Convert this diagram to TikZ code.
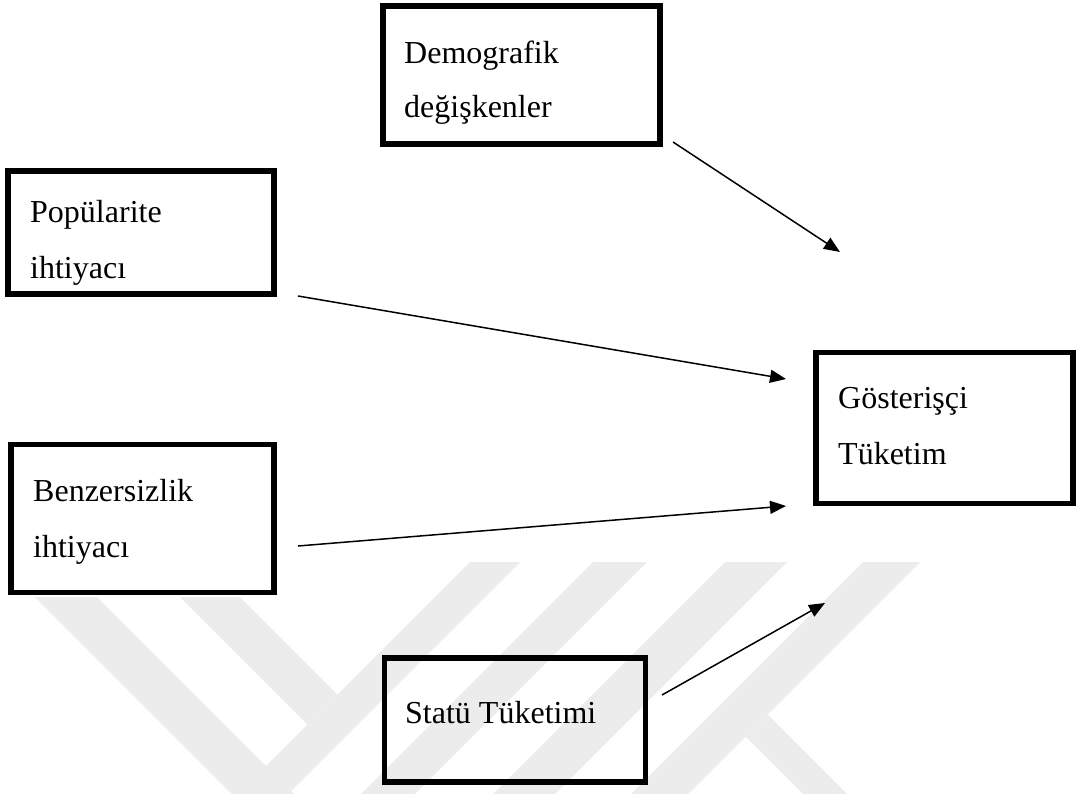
\documentclass[tikz,border=0pt]{standalone}
\usepackage{fontspec}
\setmainfont{Liberation Serif}
\usetikzlibrary{arrows.meta}
\definecolor{wm}{RGB}{236,236,236}
\begin{document}
\begin{tikzpicture}[x=1pt,y=-1pt,
  box/.style={draw=black, line width=5.5pt, rectangle, inner sep=0pt},
  lbl/.style={anchor=base west, inner sep=0pt, font=\fontsize{32}{38}\selectfont},
  link/.style={line width=1.5pt, -{Triangle[length=16pt,width=13pt]}},
  mark band/.style={fill=wm, draw=none}]
\useasboundingbox (0,0) rectangle (1078,794);
\fill[white] (0,0) rectangle (1078,794);
% faint watermark
\fill[mark band] (35,597) -- (97,597) -- (294,794) -- (232,794) -- cycle;
\fill[mark band] (180,597) -- (240,597) -- (337.5,694.5) -- (307.5,724.5) -- cycle;
\fill[mark band] (470,562) -- (520,562) -- (288,794) -- (238,794) -- cycle;
\fill[mark band] (593,562) -- (647,562) -- (415,794) -- (361,794) -- cycle;
\fill[mark band] (725,562) -- (787,562) -- (555,794) -- (493,794) -- cycle;
\fill[mark band] (863,562) -- (920,562) -- (688,794) -- (631,794) -- cycle;
\fill[mark band] (745.5,736.5) -- (767.5,714.5) -- (847,794) -- (803,794) -- cycle;
% boxes
\node[box, minimum width=277pt, minimum height=138pt] (demo) at (521.5,75) {};
\node[box, minimum width=266pt, minimum height=123pt] (popu) at (141,232.5) {};
\node[box, minimum width=257pt, minimum height=151pt] (gost) at (944.5,428) {};
\node[box, minimum width=263pt, minimum height=148pt] (benz) at (142.5,518.5) {};
\node[box, minimum width=261pt, minimum height=124pt] (statu) at (515,720) {};
% labels
\node[lbl] (demoA) at (404,64) {Demografik};
\node[lbl] (demoB) at (404,118) {değişkenler};
\node[lbl] (popuA) at (30,223) {Popülarite};
\node[lbl] (popuB) at (30,278) {ihtiyacı};
\node[lbl] (gostA) at (838,408) {Gösterişçi};
\node[lbl] (gostB) at (838,464) {Tüketim};
\node[lbl] (benzA) at (33,501) {Benzersizlik};
\node[lbl] (benzB) at (33,557) {ihtiyacı};
\node[lbl] (statuA) at (405,723) {Statü Tüketimi};
% connectors
\coordinate (a1s) at (673,142); \coordinate (a1e) at (840,252);
\coordinate (a2s) at (298,296); \coordinate (a2e) at (786,379);
\coordinate (a3s) at (298,546); \coordinate (a3e) at (786,506);
\coordinate (a4s) at (662,695); \coordinate (a4e) at (825,603);
\draw[link] (a1s) -- (a1e);
\draw[link] (a2s) -- (a2e);
\draw[link] (a3s) -- (a3e);
\draw[link] (a4s) -- (a4e);
\end{tikzpicture}
\end{document}
